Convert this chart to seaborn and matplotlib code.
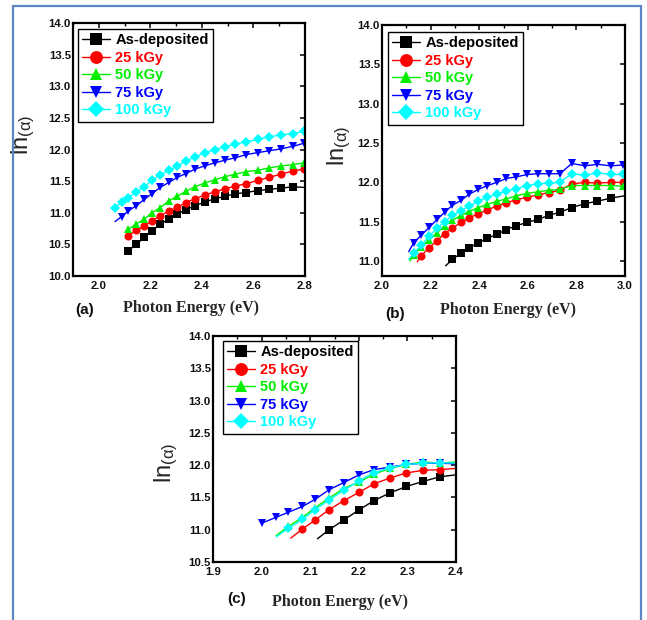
import matplotlib
matplotlib.use("Agg")
import matplotlib.pyplot as plt
import seaborn as sns
from matplotlib.patches import Rectangle
from matplotlib.ticker import MultipleLocator

sns.set_theme(style="white")
plt.rcParams["font.family"] = ["Liberation Sans", "DejaVu Sans"]
plt.rcParams["mathtext.fontset"] = "custom"
plt.rcParams["mathtext.rm"] = "Liberation Sans"
plt.rcParams["mathtext.it"] = "Liberation Sans"

series_names = ["As-deposited", "25 kGy", "50 kGy", "75 kGy", "100 kGy"]
series_colors = ["#000000", "#ff0000", "#00ee00", "#0000ff", "#00ffff"]
series_markers = ["s", "o", "^", "v", "D"]

# ---------------- panel (a) ----------------
a_asdep_x = [2.115, 2.145, 2.176, 2.206, 2.238, 2.272, 2.305, 2.338, 2.373, 2.411, 2.450,
             2.489, 2.530, 2.572, 2.616, 2.661, 2.707, 2.753, 2.800]
a_asdep_y = [10.40, 10.50, 10.61, 10.71, 10.82, 10.90, 10.98, 11.05, 11.11, 11.17, 11.22,
             11.26, 11.30, 11.32, 11.35, 11.37, 11.39, 11.41, 11.40]
a_25_x = [2.115, 2.145, 2.176, 2.206, 2.238, 2.272, 2.305, 2.338, 2.373, 2.411, 2.450,
          2.489, 2.530, 2.572, 2.616, 2.661, 2.707, 2.753, 2.797]
a_25_y = [10.64, 10.72, 10.79, 10.87, 10.95, 11.03, 11.09, 11.16, 11.22, 11.28, 11.33,
          11.38, 11.42, 11.46, 11.51, 11.56, 11.61, 11.66, 11.69]
a_50_x = [2.115, 2.145, 2.176, 2.206, 2.238, 2.272, 2.305, 2.338, 2.373, 2.411, 2.450,
          2.489, 2.530, 2.572, 2.616, 2.661, 2.707, 2.753, 2.797]
a_50_y = [10.74, 10.82, 10.90, 11.00, 11.08, 11.19, 11.26, 11.34, 11.41, 11.47, 11.52,
          11.57, 11.61, 11.65, 11.67, 11.71, 11.74, 11.76, 11.79]
a_75_x = [2.063, 2.089, 2.115, 2.145, 2.176, 2.206, 2.238, 2.272, 2.305, 2.338, 2.373,
          2.411, 2.450, 2.489, 2.530, 2.572, 2.616, 2.661, 2.707, 2.753, 2.797]
a_75_y = [10.86, 10.94, 11.03, 11.11, 11.21, 11.30, 11.40, 11.48, 11.56, 11.62, 11.69,
          11.74, 11.79, 11.83, 11.87, 11.92, 11.95, 11.98, 12.01, 12.05, 12.10]
a_100_x = [2.063, 2.089, 2.115, 2.145, 2.176, 2.206, 2.238, 2.272, 2.305, 2.338, 2.373,
           2.411, 2.450, 2.489, 2.530, 2.572, 2.616, 2.661, 2.707, 2.753, 2.797]
a_100_y = [11.08, 11.17, 11.24, 11.33, 11.41, 11.51, 11.60, 11.67, 11.74, 11.82, 11.88,
           11.95, 12.00, 12.04, 12.09, 12.12, 12.16, 12.20, 12.23, 12.25, 12.29]

# ---------------- panel (b) ----------------
b_asdep_x = [2.262, 2.290, 2.325, 2.359, 2.396, 2.434, 2.473, 2.512, 2.553, 2.597, 2.641,
             2.686, 2.732, 2.781, 2.836, 2.886, 2.941, 3.000]
b_asdep_y = [10.94, 11.02, 11.10, 11.17, 11.23, 11.29, 11.34, 11.40, 11.45, 11.49, 11.53,
             11.58, 11.62, 11.68, 11.73, 11.76, 11.80, 11.83]
b_25_x = [2.145, 2.162, 2.195, 2.227, 2.258, 2.290, 2.325, 2.359, 2.396, 2.434, 2.473,
          2.512, 2.553, 2.597, 2.641, 2.686, 2.732, 2.781, 2.836, 2.886, 2.941, 2.990]
b_25_y = [10.99, 11.07, 11.17, 11.26, 11.35, 11.42, 11.49, 11.55, 11.60, 11.65, 11.70,
          11.74, 11.78, 11.81, 11.84, 11.87, 11.90, 11.98, 12.00, 11.99, 12.00, 12.00]
b_50_x = [2.115, 2.130, 2.162, 2.195, 2.227, 2.258, 2.290, 2.325, 2.359, 2.396, 2.434,
          2.473, 2.512, 2.553, 2.597, 2.641, 2.686, 2.732, 2.781, 2.836, 2.886, 2.941, 2.990]
b_50_y = [11.00, 11.08, 11.18, 11.27, 11.36, 11.45, 11.52, 11.58, 11.63, 11.68, 11.72,
          11.76, 11.79, 11.83, 11.86, 11.88, 11.90, 11.91, 11.96, 11.96, 11.96, 11.96, 11.95]
b_75_x = [2.110, 2.130, 2.162, 2.195, 2.227, 2.258, 2.290, 2.325, 2.359, 2.396, 2.434,
          2.473, 2.512, 2.553, 2.597, 2.641, 2.686, 2.732, 2.781, 2.836, 2.886, 2.941, 2.990]
b_75_y = [11.12, 11.23, 11.33, 11.43, 11.53, 11.62, 11.71, 11.77, 11.85, 11.91, 11.96,
          12.00, 12.05, 12.07, 12.10, 12.11, 12.11, 12.11, 12.24, 12.21, 12.23, 12.21, 12.22]
b_100_x = [2.110, 2.130, 2.162, 2.195, 2.227, 2.258, 2.290, 2.325, 2.359, 2.396, 2.434,
           2.473, 2.512, 2.553, 2.597, 2.641, 2.686, 2.732, 2.781, 2.836, 2.886, 2.941, 2.990]
b_100_y = [11.02, 11.10, 11.20, 11.32, 11.42, 11.50, 11.58, 11.64, 11.70, 11.76, 11.81,
           11.85, 11.89, 11.92, 11.96, 11.98, 11.99, 12.00, 12.11, 12.09, 12.12, 12.10, 12.10]

# ---------------- panel (c) ----------------
c_asdep_x = [2.115, 2.139, 2.169, 2.201, 2.231, 2.264, 2.298, 2.333, 2.367, 2.400]
c_asdep_y = [10.86, 11.00, 11.15, 11.31, 11.45, 11.57, 11.67, 11.75, 11.82, 11.85]
c_25_x = [2.060, 2.084, 2.110, 2.139, 2.169, 2.201, 2.231, 2.264, 2.298, 2.333, 2.367, 2.400]
c_25_y = [10.87, 11.01, 11.15, 11.31, 11.45, 11.58, 11.71, 11.80, 11.88, 11.92, 11.93, 11.95]
c_50_x = [2.030, 2.055, 2.084, 2.110, 2.139, 2.169, 2.201, 2.231, 2.264, 2.298, 2.333, 2.367, 2.400]
c_50_y = [10.91, 11.05, 11.19, 11.34, 11.49, 11.64, 11.74, 11.86, 11.95, 12.01, 12.05, 12.03, 12.05]
c_75_x = [2.000, 2.029, 2.055, 2.084, 2.110, 2.139, 2.169, 2.201, 2.231, 2.264, 2.298, 2.333, 2.367, 2.400]
c_75_y = [11.10, 11.19, 11.27, 11.36, 11.47, 11.62, 11.73, 11.85, 11.93, 11.97, 12.01, 12.03, 12.03, 12.02]
c_100_x = [2.030, 2.055, 2.084, 2.110, 2.139, 2.169, 2.201, 2.231, 2.264, 2.298, 2.333, 2.367, 2.400]
c_100_y = [10.89, 11.02, 11.16, 11.31, 11.46, 11.61, 11.76, 11.88, 11.96, 12.01, 12.03, 12.04, 12.03]

# tick labels
a_xticks = [2.0, 2.2, 2.4, 2.6, 2.8]
a_yticks = [10.0, 10.5, 11.0, 11.5, 12.0, 12.5, 13.0, 13.5, 14.0]
b_xticks = [2.0, 2.2, 2.4, 2.6, 2.8, 3.0]
b_yticks = [11.0, 11.5, 12.0, 12.5, 13.0, 13.5, 14.0]
c_xticks = [1.9, 2.0, 2.1, 2.2, 2.3, 2.4]
c_yticks = [10.5, 11.0, 11.5, 12.0, 12.5, 13.0, 13.5, 14.0]

panels = [
    dict(series=[(a_asdep_x, a_asdep_y, 0, 1), (a_25_x, a_25_y, 0, 0), (a_50_x, a_50_y, 0, 0),
                 (a_75_x, a_75_y, 1, 0), (a_100_x, a_100_y, 0, 0)],
         rect=(73, 23, 305, 276), xlim=(1.9, 2.8), ylim=(10.0, 14.0),
         xticks=a_xticks, yticks=a_yticks, xminor=0.1,
         leg=(78, 29), ylab=(23, 135), xlab=(191, 308), tag="(a)", tagpos=(85, 310)),
    dict(series=[(b_asdep_x, b_asdep_y, 1, 1), (b_25_x, b_25_y, 1, 0), (b_50_x, b_50_y, 1, 0),
                 (b_75_x, b_75_y, 1, 0), (b_100_x, b_100_y, 1, 0)],
         rect=(382, 25, 625, 276), xlim=(2.0, 3.0), ylim=(10.81, 14.0),
         xticks=b_xticks, yticks=b_yticks, xminor=0.1,
         leg=(388, 32), ylab=(339, 146), xlab=(508, 310), tag="(b)", tagpos=(395, 314)),
    dict(series=[(c_asdep_x, c_asdep_y, 1, 1), (c_25_x, c_25_y, 1, 1), (c_50_x, c_50_y, 1, 1),
                 (c_75_x, c_75_y, 0, 1), (c_100_x, c_100_y, 1, 1)],
         rect=(213, 336, 456, 562), xlim=(1.9, 2.4), ylim=(10.5, 14.0),
         xticks=c_xticks, yticks=c_yticks, xminor=0.05,
         leg=(223, 341), ylab=(166, 463), xlab=(340, 602), tag="(c)", tagpos=(237, 599)),
]

W, H = 647, 620
fig = plt.figure(figsize=(W / 100, H / 100), dpi=100)
fig.patch.set_facecolor("white")

for p in panels:
    l, t, r, b = p["rect"]
    ax = fig.add_axes([l / W, 1 - b / H, (r - l) / W, (b - t) / H])
    ax.set_facecolor("white")
    for (x, y, lead, trail), name, col, mk in zip(p["series"], series_names, series_colors, series_markers):
        n = len(x)
        ms = 5.2 if mk in ("s", "D") else 5.8
        sns.lineplot(x=x, y=y, ax=ax, color=col, marker=mk, markersize=ms,
                     markeredgewidth=0, linewidth=1.0, sort=False,
                     markevery=slice(lead, n - trail), label=name, legend=False)
    ax.set_xlim(*p["xlim"])
    ax.set_ylim(*p["ylim"])
    ax.set_xticks(p["xticks"], labels=[f"{v:.1f}" for v in p["xticks"]],
                  fontweight="bold", fontsize=8.2)
    ax.set_yticks(p["yticks"], labels=[f"{v:.1f}" for v in p["yticks"]],
                  fontweight="bold", fontsize=8.2)
    ax.xaxis.set_minor_locator(MultipleLocator(p["xminor"]))
    ax.tick_params(axis="both", which="both", direction="in", top=True, right=True,
                   color="black", labelcolor="#111111")
    ax.tick_params(axis="x", pad=3.5)
    ax.tick_params(axis="y", pad=1.5)
    ax.tick_params(which="major", length=3.5, width=1.1)
    ax.tick_params(which="minor", length=2.5, width=1.0)
    for s in ax.spines.values():
        s.set_color("black")
        s.set_linewidth(1.6)
    ax.grid(False)

    aw, ah = r - l, b - t
    lx, ly = p["leg"]
    leg = ax.legend(loc="upper left", bbox_to_anchor=((lx - l) / aw, 1 - (ly - t) / ah),
                    borderaxespad=0, frameon=True, fancybox=False, edgecolor="black",
                    framealpha=1, prop={"weight": "bold", "size": 10.5},
                    handlelength=1.9, handletextpad=0.35, labelspacing=0.24,
                    borderpad=0.3, markerscale=1.6)
    leg.get_frame().set_linewidth(1.0)
    for txt, ln in zip(leg.get_texts(), leg.get_lines()):
        txt.set_color(ln.get_color())

    yx, yy = p["ylab"]
    ax.set_ylabel(r"ln$_{(\alpha)}$", fontsize=17, va="center", ha="center")
    ax.yaxis.set_label_coords((yx - l) / aw, (b - yy) / ah)
    xx, xy = p["xlab"]
    ax.set_xlabel("Photon Energy (eV)", family=["Liberation Serif", "DejaVu Serif"],
                  fontweight="bold", fontsize=11.5, va="center")
    ax.xaxis.set_label_coords((xx - l) / aw, (b - xy) / ah)
    tx, ty = p["tagpos"]
    ax.text((tx - l) / aw, (b - ty) / ah, p["tag"], transform=ax.transAxes,
            ha="center", va="center", fontsize=11, fontweight="bold", color="#111111")

frame = Rectangle((13 / W, -0.05), (641 - 13) / W, 1.05 - 6 / H, transform=fig.transFigure,
                  fill=False, edgecolor="#5b87c7", linewidth=1.6, clip_on=False)
fig.add_artist(frame)

fig.savefig("out.png", dpi=100, facecolor="white")
